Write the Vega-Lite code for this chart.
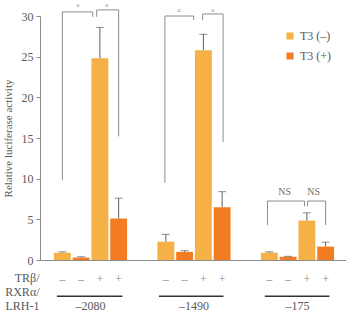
{
  "$schema": "https://vega.github.io/schema/vega-lite/v6.json",
  "width": 308,
  "height": 244,
  "autosize": {"type": "none"},
  "padding": {"left": 40, "top": 16, "right": 0, "bottom": 54},
  "background": "white",
  "config": {
    "font": "Liberation Serif, Times New Roman, DejaVu Serif, serif",
    "view": {"stroke": null},
    "axis": {
      "labelFont": "Liberation Serif, Times New Roman, DejaVu Serif, serif",
      "titleFont": "Liberation Serif, Times New Roman, DejaVu Serif, serif",
      "labelColor": "#595959",
      "titleColor": "#595959",
      "domain": true,
      "domainColor": "#8c8c8c",
      "domainWidth": 1,
      "tickColor": "#8c8c8c",
      "grid": false,
      "titleFontWeight": "normal"
    },
    "legend": {
      "labelFont": "Liberation Serif, Times New Roman, DejaVu Serif, serif",
      "labelFontSize": 12,
      "labelColor": "#595959"
    }
  },
  "datasets": {
    "bars": [
      {"group": "–2080", "cond": 1, "T3": "T3 (–)", "sign": "–", "value": 0.9, "upper": 1.0},
      {"group": "–2080", "cond": 2, "T3": "T3 (+)", "sign": "–", "value": 0.3, "upper": 0.4},
      {"group": "–2080", "cond": 3, "T3": "T3 (–)", "sign": "+", "value": 24.8, "upper": 28.6},
      {"group": "–2080", "cond": 4, "T3": "T3 (+)", "sign": "+", "value": 5.1, "upper": 7.6},
      {"group": "–1490", "cond": 1, "T3": "T3 (–)", "sign": "–", "value": 2.25, "upper": 3.15},
      {"group": "–1490", "cond": 2, "T3": "T3 (+)", "sign": "–", "value": 1.0, "upper": 1.15},
      {"group": "–1490", "cond": 3, "T3": "T3 (–)", "sign": "+", "value": 25.8, "upper": 27.75},
      {"group": "–1490", "cond": 4, "T3": "T3 (+)", "sign": "+", "value": 6.5, "upper": 8.4},
      {"group": "–175", "cond": 1, "T3": "T3 (–)", "sign": "–", "value": 0.9, "upper": 1.0},
      {"group": "–175", "cond": 2, "T3": "T3 (+)", "sign": "–", "value": 0.4, "upper": 0.45},
      {"group": "–175", "cond": 3, "T3": "T3 (–)", "sign": "+", "value": 4.85, "upper": 5.8},
      {"group": "–175", "cond": 4, "T3": "T3 (+)", "sign": "+", "value": 1.65, "upper": 2.2}
    ],
    "brackets": [
      {"id": "b1", "group": "–2080", "seq": 0, "pos": 1, "value": 9.8},
      {"id": "b1", "group": "–2080", "seq": 1, "pos": 1, "value": 30.5},
      {"id": "b1", "group": "–2080", "seq": 2, "pos": 2.62, "value": 30.5},
      {"id": "b1", "group": "–2080", "seq": 3, "pos": 2.62, "value": 29.9},
      {"id": "b2", "group": "–2080", "seq": 0, "pos": 2.83, "value": 29.9},
      {"id": "b2", "group": "–2080", "seq": 1, "pos": 2.83, "value": 30.75},
      {"id": "b2", "group": "–2080", "seq": 2, "pos": 4, "value": 30.75},
      {"id": "b2", "group": "–2080", "seq": 3, "pos": 4, "value": 15.2},
      {"id": "b3", "group": "–1490", "seq": 0, "pos": 0.95, "value": 9.5},
      {"id": "b3", "group": "–1490", "seq": 1, "pos": 0.95, "value": 30.0},
      {"id": "b3", "group": "–1490", "seq": 2, "pos": 2.48, "value": 30.0},
      {"id": "b3", "group": "–1490", "seq": 3, "pos": 2.48, "value": 29.5},
      {"id": "b4", "group": "–1490", "seq": 0, "pos": 2.96, "value": 29.5},
      {"id": "b4", "group": "–1490", "seq": 1, "pos": 2.96, "value": 30.25},
      {"id": "b4", "group": "–1490", "seq": 2, "pos": 4.05, "value": 30.25},
      {"id": "b4", "group": "–1490", "seq": 3, "pos": 4.05, "value": 14.5},
      {"id": "b5", "group": "–175", "seq": 0, "pos": 0.9, "value": 4.3},
      {"id": "b5", "group": "–175", "seq": 1, "pos": 0.9, "value": 7.25},
      {"id": "b5", "group": "–175", "seq": 2, "pos": 2.88, "value": 7.25},
      {"id": "b5", "group": "–175", "seq": 3, "pos": 2.88, "value": 6.6},
      {"id": "b6", "group": "–175", "seq": 0, "pos": 3.04, "value": 6.6},
      {"id": "b6", "group": "–175", "seq": 1, "pos": 3.04, "value": 7.25},
      {"id": "b6", "group": "–175", "seq": 2, "pos": 4, "value": 7.25},
      {"id": "b6", "group": "–175", "seq": 3, "pos": 4, "value": 4.3}
    ],
    "underlines": [
      {"id": "u1", "group": "–2080", "seq": 0, "pos": 0.71, "value": -4.45},
      {"id": "u1", "group": "–2080", "seq": 1, "pos": 4.2, "value": -4.45},
      {"id": "u2", "group": "–1490", "seq": 0, "pos": 0.63, "value": -4.45},
      {"id": "u2", "group": "–1490", "seq": 1, "pos": 4.07, "value": -4.45},
      {"id": "u3", "group": "–175", "seq": 0, "pos": 0.76, "value": -4.45},
      {"id": "u3", "group": "–175", "seq": 1, "pos": 4.2, "value": -4.45}
    ],
    "marks_a": [
      {"group": "–2080", "pos": 1.82, "value": 31.35, "label": "a"},
      {"group": "–2080", "pos": 3.36, "value": 31.35, "label": "a"},
      {"group": "–1490", "pos": 1.69, "value": 30.74, "label": "a"},
      {"group": "–1490", "pos": 3.49, "value": 30.74, "label": "a"}
    ],
    "marks_ns": [
      {"group": "–175", "pos": 1.82, "value": 8.36, "label": "NS"},
      {"group": "–175", "pos": 3.36, "value": 8.36, "label": "NS"}
    ]
  },
  "encoding": {
    "x": {
      "field": "group",
      "type": "nominal",
      "sort": ["–2080", "–1490", "–175"],
      "scale": {"paddingInner": 0.275, "paddingOuter": 0.1256},
      "axis": {
        "title": ["TRβ/", "RXRα/", "LRH-1"],
        "titleAnchor": "start",
        "titleAlign": "right",
        "titleBaseline": "alphabetic",
        "titleX": -1,
        "titleY": 21,
        "titleFontSize": 12,
        "titleLineHeight": 14,
        "labelAngle": 0,
        "labelFontSize": 12,
        "labelPadding": 40,
        "ticks": false,
        "tickSize": 0,
        "domain": true
      }
    },
    "y": {
      "field": "value",
      "type": "quantitative",
      "scale": {"domain": [0, 30], "nice": false, "zero": false},
      "axis": {
        "title": "Relative luciferase activity",
        "titleFontSize": 11,
        "titlePadding": 8,
        "values": [0, 5, 10, 15, 20, 25, 30],
        "labelFontSize": 12,
        "tickSize": 4,
        "labelPadding": 3,
        "domain": true
      }
    }
  },
  "layer": [
    {
      "data": {"name": "bars"},
      "encoding": {
        "xOffset": {
          "field": "cond",
          "type": "nominal",
          "scale": {"paddingInner": 0.1, "paddingOuter": 0.05}
        }
      },
      "layer": [
        {
          "mark": {"type": "bar"},
          "encoding": {
            "color": {
              "field": "T3",
              "type": "nominal",
              "sort": ["T3 (–)", "T3 (+)"],
              "scale": {"domain": ["T3 (–)", "T3 (+)"], "range": ["#f5b145", "#f47c22"]},
              "legend": {
                "title": null,
                "orient": "none",
                "legendX": 244,
                "legendY": 14,
                "symbolType": "square",
                "symbolSize": 50,
                "symbolStrokeWidth": 0,
                "rowPadding": 8
              }
            }
          }
        },
        {
          "mark": {"type": "rule", "color": "#5e5e5e", "strokeWidth": 1},
          "encoding": {
            "y2": {"field": "upper"}
          }
        },
        {
          "mark": {"type": "tick", "color": "#5e5e5e", "thickness": 1, "size": 8},
          "encoding": {
            "y": {"field": "upper", "type": "quantitative"}
          }
        },
        {
          "mark": {"type": "text", "fontSize": 12, "color": "#8c8c8c", "baseline": "middle"},
          "encoding": {
            "y": {"datum": -2.3},
            "text": {"field": "sign"}
          }
        }
      ]
    },
    {
      "encoding": {
        "xOffset": {
          "field": "pos",
          "type": "quantitative",
          "scale": {"domain": [0.5, 4.5], "nice": false, "zero": false}
        }
      },
      "layer": [
        {
          "data": {"name": "brackets"},
          "mark": {"type": "line", "color": "#8c8c8c", "strokeWidth": 1},
          "encoding": {
            "detail": {"field": "id"},
            "order": {"field": "seq", "type": "quantitative"}
          }
        },
        {
          "data": {"name": "underlines"},
          "mark": {"type": "line", "color": "#333333", "strokeWidth": 1.5},
          "encoding": {
            "detail": {"field": "id"},
            "order": {"field": "seq", "type": "quantitative"}
          }
        },
        {
          "data": {"name": "marks_a"},
          "mark": {"type": "text", "fontSize": 7, "color": "#8c8c8c", "baseline": "middle"},
          "encoding": {"text": {"field": "label"}}
        },
        {
          "data": {"name": "marks_ns"},
          "mark": {"type": "text", "fontSize": 10, "color": "#6e6e6e", "baseline": "middle"},
          "encoding": {"text": {"field": "label"}}
        }
      ]
    }
  ],
  "resolve": {"scale": {"xOffset": "independent"}}
}
